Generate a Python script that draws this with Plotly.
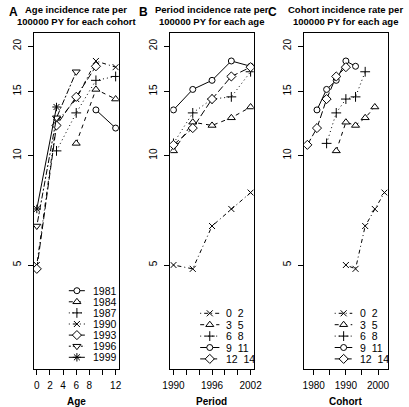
import plotly.graph_objects as go

# ---------------- data ----------------
ages = [0, 3, 6, 9, 12]
periods = [1990, 1993, 1996, 1999, 2002]
age_group_labels = ["0  2", "3  5", "6  8", "9  11", "12  14"]

rate_age_0_2 = [5.0, 4.88, 6.40, 7.13, 7.91]
rate_age_3_5 = [10.3, 12.35, 12.1, 12.7, 13.6]
rate_age_6_8 = [10.8, 13.1, 14.3, 14.5, 17.0]
rate_age_9_11 = [13.35, 15.2, 16.1, 18.2, 17.6]
rate_age_12_14 = [10.7, 11.9, 14.3, 16.5, 17.5]
rates_by_age = [rate_age_0_2, rate_age_3_5, rate_age_6_8, rate_age_9_11, rate_age_12_14]

cohorts = [1981, 1984, 1987, 1990, 1993, 1996, 1999]
cohort_labels = [str(c) for c in cohorts]

y_tickvals = [5, 10, 15, 20]
a_tickvals = [0, 2, 4, 6, 8, 10, 12]
a_ticktext = ["0", "2", "4", "6", "8", "", "12"]
b_tickvals = [1990, 1992, 1994, 1996, 1998, 2000, 2002]
b_ticktext = ["1990", "", "", "1996", "", "", "2002"]
c_tickvals = [1980, 1985, 1990, 1995, 2000]
c_ticktext = ["1980", "", "1990", "", "2000"]

# ---------------- styles ----------------
W, H = 409, 407
FONT = "Liberation Sans, Arial, sans-serif"
INK = "#000000"

DASH = {
    1: "solid",
    2: "4px,4px",
    3: "1px,3px",
    4: "1px,3px,4px,3px",
    5: "7px,3px",
    6: "2px,2px,6px,2px",
}
SYM = {
    1: ("circle", 6, True),
    2: ("triangle-up", 7, True),
    3: ("cross-thin-open", 7, False),
    4: ("x-thin-open", 6, False),
    5: ("diamond", 7, True),
    6: ("triangle-down", 7, True),
    8: ("asterisk-open", 7, False),
}

cohort_style = [(1, 1), (2, 2), (3, 3), (4, 4), (5, 5), (6, 6), (1, 8)]  # (lty, pch)
age_style = [(4, 4), (2, 2), (3, 3), (1, 1), (5, 5)]


def marker(pch):
    s, size, fill = SYM[pch]
    return dict(symbol=s, size=size, color="white" if fill else INK,
                line=dict(color=INK, width=1))


fig = go.Figure()

# Panel A: rate vs age for each cohort
for ci, c in enumerate(cohorts):
    xs, ys = [], []
    for ai, a in enumerate(ages):
        p = c + a
        if p in periods:
            xs.append(a)
            ys.append(rates_by_age[ai][periods.index(p)])
    lty, pch = cohort_style[ci]
    fig.add_trace(go.Scatter(x=xs, y=ys, mode="lines+markers", xaxis="x", yaxis="y",
                             line=dict(color=INK, width=1, dash=DASH[lty]),
                             marker=marker(pch), name=cohort_labels[ci]))

# Panel B: rate vs period for each age group
for ai in range(len(ages)):
    lty, pch = age_style[ai]
    fig.add_trace(go.Scatter(x=periods, y=rates_by_age[ai], mode="lines+markers",
                             xaxis="x2", yaxis="y2",
                             line=dict(color=INK, width=1, dash=DASH[lty]),
                             marker=marker(pch), name=age_group_labels[ai]))

# Panel C: rate vs cohort for each age group
for ai, a in enumerate(ages):
    lty, pch = age_style[ai]
    fig.add_trace(go.Scatter(x=[p - a for p in periods], y=rates_by_age[ai],
                             mode="lines+markers", xaxis="x3", yaxis="y3",
                             line=dict(color=INK, width=1, dash=DASH[lty]),
                             marker=marker(pch), name=age_group_labels[ai]))

# ---------------- manual legends (pixel overlay) ----------------
annotations = []


def add_legend(labels, styles, x0, x1, xm, xt, y0, dy):
    for i, (lab, (lty, pch)) in enumerate(zip(labels, styles)):
        y = y0 + i * dy
        fig.add_trace(go.Scatter(x=[x0, x1], y=[y, y], mode="lines", xaxis="x4", yaxis="y4",
                                 line=dict(color=INK, width=1, dash=DASH[lty]),
                                 hoverinfo="skip"))
        fig.add_trace(go.Scatter(x=[xm], y=[y], mode="markers", xaxis="x4", yaxis="y4",
                                 marker=marker(pch), hoverinfo="skip"))
        annotations.append(dict(x=xt, y=y, xref="x4", yref="y4", text=lab, showarrow=False,
                                xanchor="left", yanchor="middle",
                                font=dict(family=FONT, size=10.5, color=INK)))


add_legend(cohort_labels, cohort_style, 63.3, 80, 71.7, 86.5, 290.7, 11.1)
add_legend(age_group_labels, age_style, 200, 220, 210, 225, 313.3, 11.4)
add_legend(age_group_labels, age_style, 340, 358.3, 349.3, 364, 313.3, 11.4)

# ---------------- titles ----------------
panels = [
    ("A", "Age incidence rate per", "100000 PY for each cohort", 5.5, 71.0, "Age"),
    ("B", "Period incidence rate per", "100000 PY for each age", 140.5, 212.3, "Period"),
    ("C", "Cohort incidence rate per", "100000 PY for each age", 275.5, 351.7, "Cohort"),
]
for letter, l1, l2, lx, cx, xt in panels:
    annotations.append(dict(x=lx, y=11.5, xref="x4", yref="y4", text="<b>%s</b>" % letter,
                            showarrow=False, xanchor="center", yanchor="middle",
                            font=dict(family=FONT, size=12, color=INK)))
    annotations.append(dict(x=cx, y=9.5, xref="x4", yref="y4", text="<b>%s</b>" % l1,
                            showarrow=False, xanchor="center", yanchor="middle",
                            font=dict(family=FONT, size=9.5, color=INK)))
    annotations.append(dict(x=cx, y=21.0, xref="x4", yref="y4", text="<b>%s</b>" % l2,
                            showarrow=False, xanchor="center", yanchor="middle",
                            font=dict(family=FONT, size=9.5, color=INK)))
    annotations.append(dict(x=cx, y=401.5, xref="x4", yref="y4", text="<b>%s</b>" % xt,
                            showarrow=False, xanchor="center", yanchor="middle",
                            font=dict(family=FONT, size=10, color=INK)))

# ---------------- axes ----------------
ydom = [1 - 369 / H, 1 - 33 / H]
xdoms = [[26.7 / W, 115.3 / W], [169.0 / W, 255.7 / W], [308.3 / W, 395.0 / W]]
xranges = [[-0.48, 12.48], [1989.52, 2002.48], [1977.04, 2002.96]]
xticks = [(a_tickvals, a_ticktext), (b_tickvals, b_ticktext), (c_tickvals, c_ticktext)]

layout = dict(
    width=W, height=H, margin=dict(l=0, r=0, t=0, b=0),
    paper_bgcolor="white", plot_bgcolor="rgba(0,0,0,0)",
    showlegend=False, annotations=annotations,
    font=dict(family=FONT, size=10, color=INK),
)
for i in range(3):
    sx = "" if i == 0 else str(i + 1)
    layout["xaxis" + sx] = dict(
        domain=xdoms[i], range=xranges[i], anchor="y" + sx,
        showline=True, mirror=True, linecolor=INK, linewidth=1,
        ticks="outside", ticklen=5, tickwidth=1, tickcolor=INK,
        tickvals=xticks[i][0], ticktext=xticks[i][1], ticklabelstandoff=2,
        showgrid=False, zeroline=False, tickfont=dict(size=10),
    )
    layout["yaxis" + sx] = dict(
        domain=ydom, type="log", range=[0.413, 1.337], anchor="x" + sx,
        showline=True, mirror=True, linecolor=INK, linewidth=1,
        ticks="outside", ticklen=5, tickwidth=1, tickcolor=INK,
        tickvals=y_tickvals, ticktext=[str(v) for v in y_tickvals], tickangle=-90,
        ticklabelstandoff=3,
        showgrid=False, zeroline=False, tickfont=dict(size=10),
    )
layout["xaxis4"] = dict(domain=[0, 1], range=[0, W], anchor="y4", visible=False, fixedrange=True)
layout["yaxis4"] = dict(domain=[0, 1], range=[H, 0], anchor="x4", visible=False, fixedrange=True)

fig.update_layout(**layout)
fig.write_html(
    "out.html",
    config={"displayModeBar": False, "staticPlot": True},
    post_script="document.body.style.margin='0';document.body.style.padding='0';"
                "document.body.style.overflow='hidden';",
)
